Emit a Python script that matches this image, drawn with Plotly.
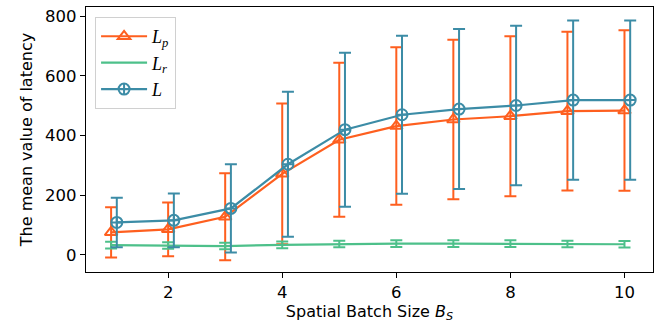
import plotly.graph_objects as go

batch_sizes = [1, 2, 3, 4, 5, 6, 7, 8, 9, 10]

lp_mean = [76, 86, 128, 272, 386, 432, 454, 465, 482, 484]
lp_err = [84, 90, 146, 236, 258, 264, 267, 268, 266, 269]

lr_mean = [33, 32, 30, 34, 37, 38, 38, 38, 37, 36]
lr_err = [11, 11, 11, 11, 11, 11, 11, 11, 11, 11]

l_mean = [109, 116, 156, 304, 420, 470, 489, 501, 519, 519]
l_err = [83, 90, 148, 243, 258, 265, 268, 267, 267, 267]

offset_l = 0.1

ORANGE = "#fe5f1f"
GREEN = "#4dc08a"
BLUE = "#3c8ca6"

fig = go.Figure()

fig.add_trace(go.Scatter(
    x=batch_sizes, y=lp_mean,
    error_y=dict(type="data", array=lp_err, visible=True, color=ORANGE, thickness=2, width=6),
    mode="lines+markers",
    line=dict(color=ORANGE, width=2.2),
    marker=dict(symbol="triangle-up-open", size=11, color=ORANGE, line=dict(width=2, color=ORANGE)),
    name="<i>L</i><sub><i>p</i></sub>",
))

fig.add_trace(go.Scatter(
    x=batch_sizes, y=lr_mean,
    error_y=dict(type="data", array=lr_err, visible=True, color=GREEN, thickness=2, width=6),
    mode="lines",
    line=dict(color=GREEN, width=2.2),
    name="<i>L</i><sub><i>r</i></sub>",
))

fig.add_trace(go.Scatter(
    x=[b + offset_l for b in batch_sizes], y=l_mean,
    error_y=dict(type="data", array=l_err, visible=True, color=BLUE, thickness=2, width=6),
    mode="lines+markers",
    line=dict(color=BLUE, width=2.2),
    marker=dict(symbol="circle-cross-open", size=11, color=BLUE, line=dict(width=2, color=BLUE)),
    name="<i>L</i>",
))

axis_common = dict(
    showline=True, linecolor="black", linewidth=1.3, mirror=True,
    ticks="outside", ticklen=5, tickwidth=1.2, tickcolor="black",
    showgrid=False, zeroline=False, automargin=False,
    tickfont=dict(family="DejaVu Sans", size=16.5, color="black"),
)

fig.update_layout(
    width=657, height=328,
    margin=dict(l=86, r=4, t=7, b=56),
    paper_bgcolor="white", plot_bgcolor="white",
    font=dict(family="DejaVu Sans", color="black"),
    xaxis=dict(
        range=[0.56, 10.5], tickvals=[2, 4, 6, 8, 10],
        title=dict(text="Spatial Batch Size <i>B</i><sub><i>S</i></sub>",
                   font=dict(family="DejaVu Sans", size=16), standoff=2),
        **axis_common,
    ),
    yaxis=dict(
        range=[-57, 831], tickvals=[0, 200, 400, 600, 800],
        title=dict(text="The mean value of latency",
                   font=dict(family="DejaVu Sans", size=16), standoff=8),
        **axis_common,
    ),
    legend=dict(
        x=0.016, y=0.962, xanchor="left", yanchor="top",
        bgcolor="rgba(255,255,255,0.8)", bordercolor="#d0d0d0", borderwidth=1,
        font=dict(family="Liberation Serif", size=18, color="black"),
        tracegroupgap=0, itemwidth=46,
    ),
    showlegend=True,
)

fig.write_html("out.html", config={"displayModeBar": False},
               post_script="document.body.style.margin='0';")
